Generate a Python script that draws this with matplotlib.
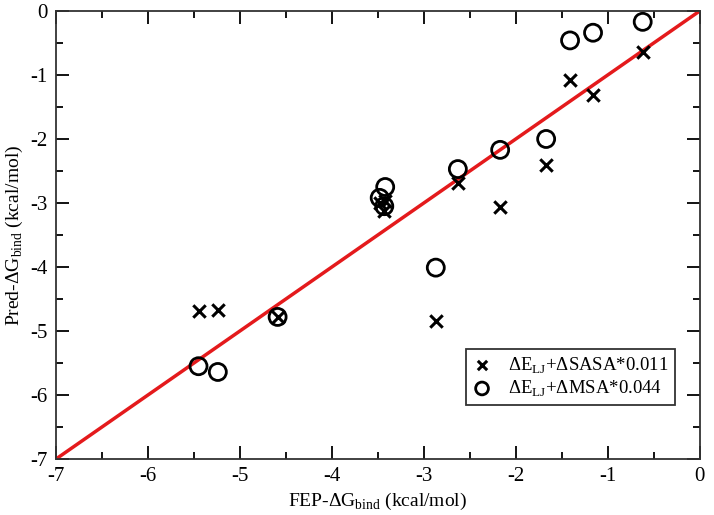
import numpy as np
import matplotlib
matplotlib.use("Agg")
import matplotlib.pyplot as plt
from matplotlib.ticker import MultipleLocator

plt.rcParams['font.family'] = ['Liberation Serif', 'DejaVu Serif']
plt.rcParams['mathtext.fontset'] = 'custom'
plt.rcParams['mathtext.rm'] = 'Liberation Serif'
plt.rcParams['axes.unicode_minus'] = False

# FEP reference values (x) and predictions (y)
fep = [-5.45, -5.24, -4.59, -3.48, -3.43, -3.42, -2.87, -2.63, -2.17, -1.67, -1.41, -1.16, -0.62]
pred_sasa = [-4.69, -4.67, -4.78, -3.00, -3.13, -2.97, -4.84, -2.69, -3.07, -2.41, -1.08, -1.31, -0.64]
pred_msa = [-5.55, -5.64, -4.78, -2.92, -3.05, -2.75, -4.01, -2.47, -2.17, -2.00, -0.46, -0.34, -0.17]

diag = [-7, 0]

fig = plt.figure(figsize=(7.14, 5.15), dpi=100)
ax = fig.add_axes([0.0784, 0.1087, 0.9016, 0.87])

ax.plot(diag, diag, color='#e41a1c', lw=2.5, zorder=2)
ax.scatter(fep, pred_sasa, marker='x', s=80, color='black', linewidths=2.2, zorder=3,
           label=r'$\Delta$E$_{\mathrm{LJ}}$+$\Delta$SASA*0.011')
ax.scatter(fep, pred_msa, marker='o', s=150, facecolors='none', edgecolors='black',
           linewidths=2.0, zorder=3,
           label=r'$\Delta$E$_{\mathrm{LJ}}$+$\Delta$MSA*0.044')

ax.set_xlim(-7, 0)
ax.set_ylim(-7, 0)
ax.xaxis.set_major_locator(MultipleLocator(1))
ax.yaxis.set_major_locator(MultipleLocator(1))
ax.xaxis.set_minor_locator(MultipleLocator(0.5))
ax.yaxis.set_minor_locator(MultipleLocator(0.5))
ax.tick_params(which='both', direction='in', top=True, right=True, width=1.3, labelsize=15)
ax.tick_params(which='major', length=9.5, pad=6)
ax.tick_params(which='minor', length=5)
for s in ax.spines.values():
    s.set_linewidth(1.3)
    s.set_color('#333333')

ax.set_xlabel(r'FEP-$\Delta$G$_{\mathrm{bind}}$ (kcal/mol)', fontsize=14, labelpad=3)
ax.set_ylabel(r'Pred-$\Delta$G$_{\mathrm{bind}}$ (kcal/mol)', fontsize=14, labelpad=4)

# legend box in the lower right, square black frame
leg = ax.legend(loc='lower right', bbox_to_anchor=(0.962, 0.12), borderaxespad=0,
                fontsize=13.5, fancybox=False, framealpha=1, edgecolor='#333333',
                handletextpad=0.9, handlelength=1.0, borderpad=0.35, labelspacing=0.15,
                markerscale=0.75)
leg.get_frame().set_linewidth(1.3)

fig.savefig('out.png', dpi=100)
